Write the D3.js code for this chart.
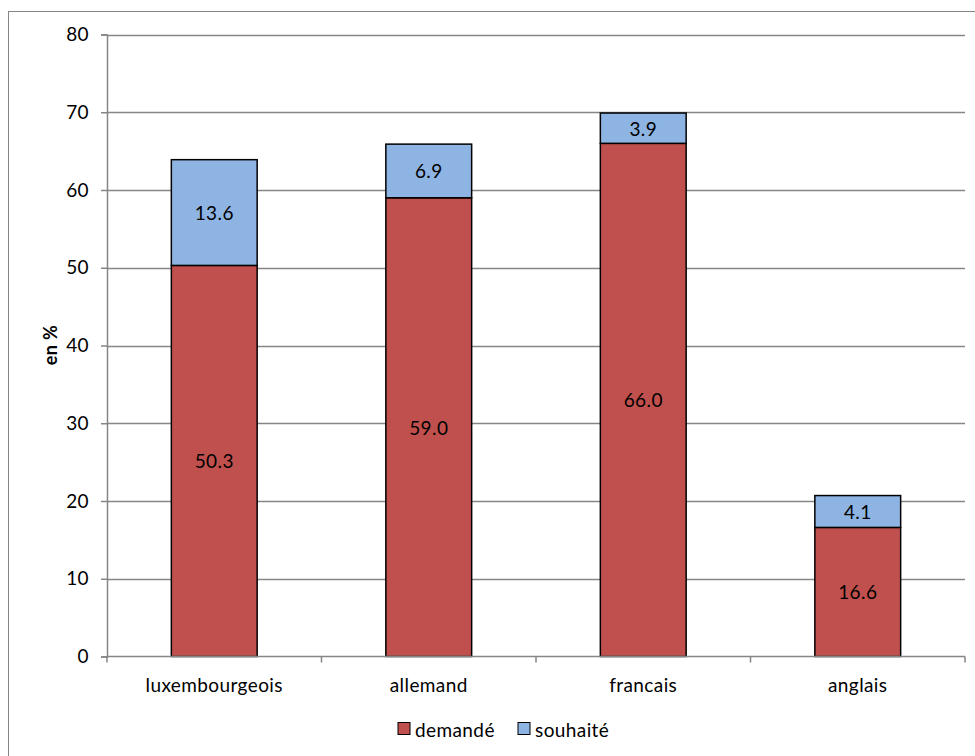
<!DOCTYPE html>
<html><head><meta charset="utf-8">
<script src="https://cdn.jsdelivr.net/npm/d3@7"></script>
<style>body{margin:0;background:#fff}svg{display:block}text{font-family:Lato,"Open Sans",sans-serif;fill:#000;letter-spacing:0.4px}</style>
</head><body><svg id="c" width="975" height="756"></svg>
<script>
const categories = ["luxembourgeois","allemand","francais","anglais"];
const demande = [50.3, 59.0, 66.0, 16.6];
const souhaite = [13.6, 6.9, 3.9, 4.1];
const yTicks = [0,10,20,30,40,50,60,70,80];
const seriesNames = ["demandé","souhaité"];
const colors = ["#C0504D","#8EB4E3"];
const FS = 19;

const svg = d3.select("#c");
svg.append("rect").attr("x",8.5).attr("y",11.5).attr("width",1000).attr("height",1000)
  .attr("fill","none").attr("stroke","#868686").attr("stroke-width",1);

const m = {l:107, r:965, t:34.5, b:656.5};
const x = d3.scaleBand().domain(categories).range([m.l,m.r]).paddingInner(0.6).paddingOuter(0.3);
const xo = d3.scaleBand().domain(categories).range([m.l,m.r]);
const y = d3.scaleLinear().domain([0,80]).range([m.b,m.t]);

svg.append("g").selectAll("line").data(yTicks.slice(1)).join("line")
  .attr("x1",m.l).attr("x2",m.r).attr("y1",d=>Math.round(y(d))+0.5).attr("y2",d=>Math.round(y(d))+0.5)
  .attr("stroke","#868686").attr("stroke-width",1.5);

const data = categories.map((c,i)=>({c, d:demande[i], s:souhaite[i]}));
const stack = d3.stack().keys(["d","s"])(data);

const g = svg.append("g");
stack.forEach((layer,li)=>{
  g.selectAll(null).data(layer).join("rect")
    .attr("x",d=>x(d.data.c)).attr("width",x.bandwidth())
    .attr("y",d=>y(d[1])).attr("height",d=>y(d[0])-y(d[1]))
    .attr("fill",colors[li]).attr("stroke","#000").attr("stroke-width",1.5);
  g.selectAll(null).data(layer).join("text")
    .attr("x",d=>x(d.data.c)+x.bandwidth()/2).attr("y",d=>(y(d[0])+y(d[1]))/2)
    .attr("text-anchor","middle").attr("dominant-baseline","central")
    .attr("font-size",FS).text(d=>(d[1]-d[0]).toFixed(1));
});

const ya = svg.append("g").attr("transform",`translate(${m.l},0)`)
  .call(d3.axisLeft(y).tickValues(yTicks).tickSize(6).tickPadding(12));
ya.select(".domain").attr("stroke","#868686").attr("stroke-width",1.5);
ya.selectAll(".tick line").attr("stroke","#868686").attr("stroke-width",1.5);
ya.selectAll(".tick text").attr("font-size",FS).attr("font-family","Lato,sans-serif").attr("fill","#000");

const xa = svg.append("g").attr("transform",`translate(0,${m.b})`);
xa.append("line").attr("x1",m.l).attr("x2",m.r).attr("stroke","#868686").attr("stroke-width",1.5);
const edges = categories.map(c=>xo(c)).concat([m.r]);
xa.selectAll("line.t").data(edges).join("line").attr("class","t")
  .attr("x1",d=>d).attr("x2",d=>d).attr("y1",0).attr("y2",6).attr("stroke","#868686").attr("stroke-width",1.5);
xa.selectAll("text").data(categories).join("text")
  .attr("x",d=>xo(d)+xo.bandwidth()/2).attr("y",35).attr("text-anchor","middle")
  .attr("font-size",FS).text(d=>d);

svg.append("text").attr("transform","translate(50,345) rotate(-90)").attr("text-anchor","middle")
  .attr("dominant-baseline","central")
  .attr("font-size",18).attr("font-weight","bold").text("en %");

const lg = svg.append("g");
const lx = [398, 518];
seriesNames.forEach((n,i)=>{
  lg.append("rect").attr("x",lx[i]).attr("y",722.5).attr("width",12).attr("height",12)
    .attr("fill",colors[i]).attr("stroke","#000").attr("stroke-width",1);
  lg.append("text").attr("x",lx[i]+17).attr("y",729).attr("dominant-baseline","central")
    .attr("font-size",FS).text(n);
});
</script></body></html>
